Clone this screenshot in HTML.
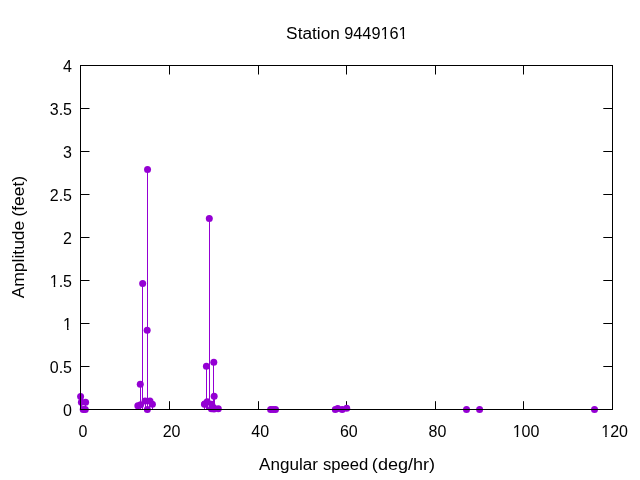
<!DOCTYPE html>
<html><head><meta charset="utf-8"><title>Station 9449161</title>
<style>html,body{margin:0;padding:0;background:#fff;}svg{display:block;will-change:transform;}text{font-family:"Liberation Sans",sans-serif;}</style>
</head><body><svg width="640" height="480" viewBox="0 0 640 480"><path d="M169.5 409.5V401.2M169.5 65.5V74.5M258.5 409.5V401.2M258.5 65.5V74.5M346.5 409.5V401.2M346.5 65.5V74.5M435.5 409.5V401.2M435.5 65.5V74.5M523.5 409.5V401.2M523.5 65.5V74.5M80.5 366.5H89.5M612.5 366.5H603.3M80.5 323.5H89.5M612.5 323.5H603.3M80.5 280.5H89.5M612.5 280.5H603.3M80.5 237.5H89.5M612.5 237.5H603.3M80.5 194.5H89.5M612.5 194.5H603.3M80.5 151.5H89.5M612.5 151.5H603.3M80.5 108.5H89.5M612.5 108.5H603.3" stroke="#000" stroke-width="1" fill="none"/><path d="M80.5 396.43V409.5M81.5 402.36V409.5M85.5 402.36V409.5M137.5 405.63V409.5M140.5 384.22V409.5M140.5 404.77V409.5M142.5 283.42V409.5M145.5 400.90V409.5M147.5 330.21V409.5M147.5 169.56V409.5M149.5 400.90V409.5M152.5 404.34V409.5M204.5 404.34V409.5M204.5 403.91V409.5M206.5 366.33V409.5M207.5 401.76V409.5M209.5 218.41V409.5M211.5 408.64V409.5M211.5 404.34V409.5M213.5 407.78V409.5M213.5 362.29V409.5M213.5 409.07V409.5M214.5 396.34V409.5M218.5 408.64V409.5M337.5 408.47V409.5M346.5 408.21V409.5" stroke="#9400d3" stroke-width="1" fill="none"/><g fill="#9400d3"><circle cx="80.60" cy="396.43" r="3.5"/><circle cx="81.40" cy="402.36" r="3.5"/><circle cx="83.20" cy="409.50" r="3.5"/><circle cx="85.30" cy="409.50" r="3.5"/><circle cx="85.60" cy="402.36" r="3.5"/><circle cx="137.84" cy="405.63" r="3.5"/><circle cx="140.26" cy="384.22" r="3.5"/><circle cx="140.58" cy="404.77" r="3.5"/><circle cx="142.67" cy="283.42" r="3.5"/><circle cx="145.12" cy="400.90" r="3.5"/><circle cx="147.17" cy="330.21" r="3.5"/><circle cx="147.35" cy="409.50" r="3.5"/><circle cx="147.53" cy="169.56" r="3.5"/><circle cx="149.94" cy="400.90" r="3.5"/><circle cx="152.40" cy="404.34" r="3.5"/><circle cx="204.48" cy="404.34" r="3.5"/><circle cx="204.80" cy="403.91" r="3.5"/><circle cx="206.40" cy="366.33" r="3.5"/><circle cx="207.21" cy="401.76" r="3.5"/><circle cx="209.30" cy="218.41" r="3.5"/><circle cx="211.39" cy="408.64" r="3.5"/><circle cx="211.71" cy="404.34" r="3.5"/><circle cx="213.62" cy="407.78" r="3.5"/><circle cx="213.80" cy="362.29" r="3.5"/><circle cx="213.98" cy="409.07" r="3.5"/><circle cx="214.16" cy="396.34" r="3.5"/><circle cx="218.30" cy="408.64" r="3.5"/><circle cx="270.60" cy="409.50" r="3.5"/><circle cx="273.10" cy="409.50" r="3.5"/><circle cx="275.50" cy="409.50" r="3.5"/><circle cx="335.29" cy="409.50" r="3.5"/><circle cx="337.70" cy="408.47" r="3.5"/><circle cx="342.20" cy="409.50" r="3.5"/><circle cx="346.70" cy="408.21" r="3.5"/><circle cx="466.50" cy="409.50" r="3.5"/><circle cx="479.60" cy="409.50" r="3.5"/><circle cx="594.50" cy="409.50" r="3.5"/></g><rect x="80.5" y="65.5" width="532" height="344" fill="none" stroke="#000" stroke-width="1"/><text x="286.11" y="38.6" font-family="Liberation Sans, sans-serif" font-size="16" textLength="53.77" lengthAdjust="spacingAndGlyphs">Station</text><text x="344.23" y="38.6" font-family="Liberation Sans, sans-serif" font-size="16" textLength="63.47" lengthAdjust="spacingAndGlyphs">9449161</text><text x="259.03" y="469.6" font-family="Liberation Sans, sans-serif" font-size="16" textLength="58.86" lengthAdjust="spacingAndGlyphs">Angular</text><text x="322.93" y="469.6" font-family="Liberation Sans, sans-serif" font-size="16" textLength="45.34" lengthAdjust="spacingAndGlyphs">speed</text><text x="371.88" y="469.6" font-family="Liberation Sans, sans-serif" font-size="16" textLength="63.25" lengthAdjust="spacingAndGlyphs">(deg/hr)</text><g transform="translate(23.8 0) rotate(-90)"><text x="-298.33" y="0" font-family="Liberation Sans, sans-serif" font-size="16" textLength="77.60" lengthAdjust="spacingAndGlyphs">Amplitude</text><text x="-216.58" y="0" font-family="Liberation Sans, sans-serif" font-size="16" textLength="40.66" lengthAdjust="spacingAndGlyphs">(feet)</text></g><text x="72" y="415.5" font-family="Liberation Sans, sans-serif" font-size="16" text-anchor="end">0</text><text x="72" y="372.5" font-family="Liberation Sans, sans-serif" font-size="16" text-anchor="end">0.5</text><text x="72" y="329.5" font-family="Liberation Sans, sans-serif" font-size="16" text-anchor="end">1</text><text x="72" y="286.5" font-family="Liberation Sans, sans-serif" font-size="16" text-anchor="end">1.5</text><text x="72" y="243.5" font-family="Liberation Sans, sans-serif" font-size="16" text-anchor="end">2</text><text x="72" y="200.5" font-family="Liberation Sans, sans-serif" font-size="16" text-anchor="end">2.5</text><text x="72" y="157.5" font-family="Liberation Sans, sans-serif" font-size="16" text-anchor="end">3</text><text x="72" y="114.5" font-family="Liberation Sans, sans-serif" font-size="16" text-anchor="end">3.5</text><text x="72" y="71.5" font-family="Liberation Sans, sans-serif" font-size="16" text-anchor="end">4</text><text x="83.0" y="437.4" font-family="Liberation Sans, sans-serif" font-size="16" text-anchor="middle">0</text><text x="171.6" y="437.4" font-family="Liberation Sans, sans-serif" font-size="16" text-anchor="middle">20</text><text x="260.2" y="437.4" font-family="Liberation Sans, sans-serif" font-size="16" text-anchor="middle">40</text><text x="348.8" y="437.4" font-family="Liberation Sans, sans-serif" font-size="16" text-anchor="middle">60</text><text x="437.4" y="437.4" font-family="Liberation Sans, sans-serif" font-size="16" text-anchor="middle">80</text><text x="526.0" y="437.4" font-family="Liberation Sans, sans-serif" font-size="16" text-anchor="middle">100</text><text x="614.6" y="437.4" font-family="Liberation Sans, sans-serif" font-size="16" text-anchor="middle">120</text><g fill="#fff"><rect x="380.83" y="36.00" width="3.70" height="3"/><rect x="386.09" y="36.00" width="3.42" height="3"/><rect x="398.96" y="36.00" width="3.70" height="3"/><rect x="404.23" y="36.00" width="3.42" height="3"/><rect x="63.42" y="327.00" width="3.63" height="3"/><rect x="68.59" y="327.00" width="3.36" height="3"/><rect x="50.08" y="284.00" width="3.63" height="3"/><rect x="55.25" y="284.00" width="3.36" height="3"/><rect x="512.97" y="435.00" width="3.63" height="3"/><rect x="518.14" y="435.00" width="3.36" height="3"/><rect x="601.57" y="435.00" width="3.63" height="3"/><rect x="606.74" y="435.00" width="3.36" height="3"/></g></svg></body></html>
